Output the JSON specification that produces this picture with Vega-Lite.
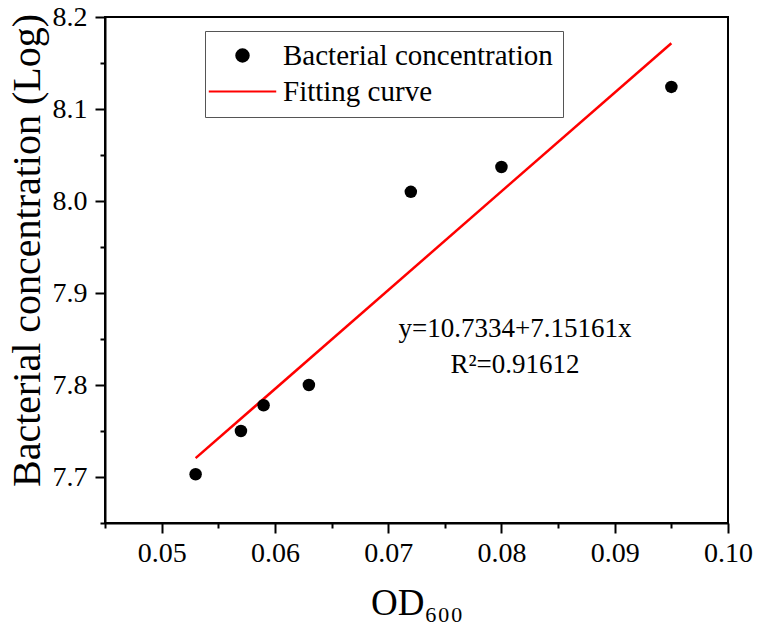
{
  "$schema": "https://vega.github.io/schema/vega-lite/v6.json",
  "width": 623,
  "height": 506,
  "autosize": {"type": "none"},
  "padding": {"left": 105, "top": 17, "right": 31, "bottom": 114},
  "background": "white",
  "config": {
    "font": "Liberation Serif",
    "view": {"stroke": "black", "strokeWidth": 2},
    "axis": {
      "domainColor": "black",
      "domainWidth": 2,
      "tickColor": "black",
      "tickWidth": 2,
      "grid": false,
      "labelColor": "black",
      "titleColor": "black",
      "labelFont": "Liberation Serif",
      "labelFontSize": 28,
      "titleFont": "Liberation Serif",
      "titleFontWeight": "normal",
      "labelFlush": false,
      "labelOverlap": false,
      "labelBound": false
    },
    "legend": {
      "orient": "none",
      "legendX": 100,
      "legendY": 14,
      "padding": 10,
      "rowPadding": 6,
      "symbolSize": 156,
      "symbolStrokeWidth": 2,
      "symbolOffset": 13,
      "labelOffset": 26,
      "labelFont": "Liberation Serif",
      "labelFontSize": 29,
      "labelColor": "black",
      "labelLimit": 0,
      "strokeColor": "#555555",
      "fillColor": "white"
    }
  },
  "datasets": {
    "measured": [
      {"od": 0.053, "logc": 7.703, "series": "Bacterial concentration"},
      {"od": 0.057, "logc": 7.750, "series": "Bacterial concentration"},
      {"od": 0.059, "logc": 7.778, "series": "Bacterial concentration"},
      {"od": 0.063, "logc": 7.800, "series": "Bacterial concentration"},
      {"od": 0.072, "logc": 8.010, "series": "Bacterial concentration"},
      {"od": 0.080, "logc": 8.037, "series": "Bacterial concentration"},
      {"od": 0.095, "logc": 8.124, "series": "Bacterial concentration"}
    ],
    "fit": [
      {"od": 0.053, "logc": 7.7205, "series": "Fitting curve"},
      {"od": 0.095, "logc": 8.1715, "series": "Fitting curve"}
    ]
  },
  "layer": [
    {
      "data": {"name": "fit"},
      "mark": {"type": "line", "strokeWidth": 2.5},
      "encoding": {
        "x": {
          "field": "od",
          "type": "quantitative",
          "scale": {"domain": [0.045, 0.1], "nice": false, "zero": false},
          "axis": {
            "values": [0.045, 0.05, 0.055, 0.06, 0.065, 0.07, 0.075, 0.08, 0.085, 0.09, 0.095, 0.1],
            "labelExpr": "abs(datum.value*100 - round(datum.value*100)) < 0.000001 ? format(datum.value, '.2f') : ''",
            "tickSize": {"condition": {"test": "abs(datum.value*100 - round(datum.value*100)) < 0.000001", "value": 10}, "value": 5},
            "labelPadding": 6,
            "title": "OD₆₀₀",
            "titleFontSize": 37,
            "titlePadding": 18
          }
        },
        "y": {
          "field": "logc",
          "type": "quantitative",
          "scale": {"domain": [7.65, 8.2], "nice": false, "zero": false},
          "axis": {
            "values": [7.65, 7.7, 7.75, 7.8, 7.85, 7.9, 7.95, 8.0, 8.05, 8.1, 8.15, 8.2],
            "labelExpr": "abs(datum.value*10 - round(datum.value*10)) < 0.000001 ? format(datum.value, '.1f') : ''",
            "tickSize": {"condition": {"test": "abs(datum.value*10 - round(datum.value*10)) < 0.000001", "value": 10}, "value": 5},
            "labelPadding": 8,
            "title": "Bacterial concentration (Log)",
            "titleFontSize": 40,
            "titlePadding": 5,
            "titleY": 233
          }
        },
        "color": {
          "field": "series",
          "type": "nominal",
          "scale": {"domain": ["Bacterial concentration", "Fitting curve"], "range": ["black", "#ff0000"]},
          "legend": {
            "title": null,
            "encode": {
              "symbols": {
                "update": {
                  "shape": {"signal": "datum.value === 'Fitting curve' ? 'M-5.4,0H5.4' : 'circle'"},
                  "fill": {"signal": "datum.value === 'Fitting curve' ? 'transparent' : 'black'"},
                  "stroke": {"signal": "datum.value === 'Fitting curve' ? '#ff0000' : 'transparent'"},
                  "opacity": {"value": 1}
                }
              }
            }
          }
        }
      }
    },
    {
      "data": {"name": "measured"},
      "mark": {"type": "point", "filled": true, "size": 156, "opacity": 1},
      "encoding": {
        "x": {"field": "od", "type": "quantitative"},
        "y": {"field": "logc", "type": "quantitative"},
        "color": {"field": "series", "type": "nominal"}
      }
    },
    {
      "data": {"values": [{}]},
      "mark": {
        "type": "text",
        "text": ["y=10.7334+7.15161x", "R²=0.91612"],
        "font": "Liberation Serif",
        "fontSize": 27,
        "lineHeight": 36,
        "align": "center",
        "baseline": "alphabetic",
        "color": "black"
      },
      "encoding": {
        "x": {"datum": 0.0812, "type": "quantitative"},
        "y": {"datum": 7.852, "type": "quantitative"}
      }
    }
  ]
}
